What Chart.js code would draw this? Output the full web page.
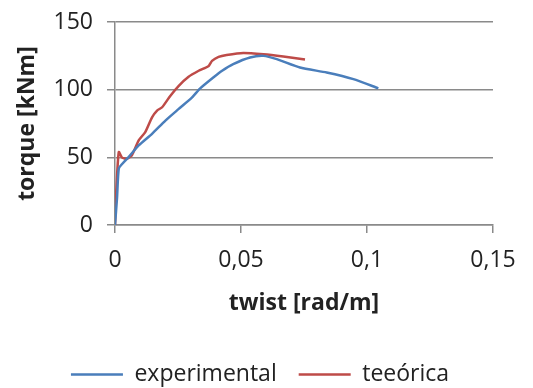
<!DOCTYPE html>
<html>
<head>
<meta charset="utf-8">
<script src="https://cdn.jsdelivr.net/npm/chart.js@4"></script>
<style>
  html, body { margin: 0; padding: 0; background: #fff; }
  #wrap { width: 533px; height: 388px; }
</style>
</head>
<body>
<div id="wrap"><canvas id="torqueChart"></canvas></div>
<script>
// curva experimental (twist, torque)
const expTwist  = [0, 0.0008, 0.0015, 0.003, 0.0054, 0.0094, 0.0147, 0.020, 0.0253, 0.0306, 0.0337, 0.039, 0.0425, 0.0469, 0.0536, 0.0589, 0.0642, 0.0734, 0.084, 0.0946, 0.1045];
const expTorque = [0, 20, 41.7, 45.5, 50.2, 58.8, 67.4, 77.2, 85.8, 94.3, 100.8, 109, 114, 118.9, 123.8, 125, 122.6, 116.4, 112.7, 107.8, 101];

// curva teórica
const teoTwist  = [0, 0.0005, 0.0015, 0.0028, 0.0048, 0.0067, 0.0094, 0.012, 0.0147, 0.0167, 0.0187, 0.022, 0.0253, 0.0292, 0.0332, 0.0372, 0.0385, 0.0411, 0.0443, 0.0509, 0.0589, 0.0668, 0.0754];
const teoTorque = [0, 25, 53.9, 49.8, 49, 51.5, 62.5, 68.6, 79.6, 84.6, 87, 95.6, 102.9, 109.6, 114, 117.6, 121.3, 124.3, 125.7, 127.2, 126.2, 124.5, 122.3];

const xTicks = [0, 0.05, 0.1, 0.15];
const xTickLabels = ['0', '0,05', '0,1', '0,15'];
const yTicks = [0, 50, 100, 150];

const pontos = (xs, ys) => xs.map((x, i) => ({ x: x, y: ys[i] }));

const azul = '#4a7ebb';
const vermelho = '#be4b48';
const cinza = '#8a8a8a';
const fonte = '"Open Sans", sans-serif';

const ctx = document.getElementById('torqueChart').getContext('2d');
new Chart(ctx, {
    type: 'scatter',
    data: {
        datasets: [{
            label: 'experimental',
            data: pontos(expTwist, expTorque),
            borderColor: azul,
            backgroundColor: azul,
            borderWidth: 2.5,
            showLine: true,
            pointRadius: 0,
            tension: 0.2
        }, {
            label: 'teeórica',
            data: pontos(teoTwist, teoTorque),
            borderColor: vermelho,
            backgroundColor: vermelho,
            borderWidth: 2.5,
            showLine: true,
            pointRadius: 0,
            tension: 0.2
        }]
    },
    options: {
        responsive: true,
        maintainAspectRatio: false,
        animation: false,
        layout: {
            padding: { left: 0, right: 13, top: 21, bottom: -8 }
        },
        plugins: {
            tooltip: { enabled: false },
            legend: {
                position: 'bottom',
                labels: {
                    boxWidth: 52,
                    boxHeight: 0,
                    padding: 22,
                    color: '#222',
                    font: { family: fonte, size: 23 }
                }
            }
        },
        scales: {
            x: {
                type: 'linear',
                min: 0,
                max: 0.15,
                afterBuildTicks: scale => {
                    scale.ticks = xTicks.map(v => ({ value: v }));
                },
                afterFit: scale => { scale.height = 116; },
                ticks: {
                    padding: 14,
                    color: '#222',
                    font: { family: fonte, size: 23 },
                    callback: (v, i) => xTickLabels[i]
                },
                grid: {
                    drawOnChartArea: false,
                    drawTicks: true,
                    tickLength: 8,
                    color: cinza,
                    lineWidth: 1.5
                },
                border: { color: cinza, width: 1.5 },
                title: {
                    display: true,
                    text: 'twist [rad/m]',
                    color: '#222',
                    font: { family: fonte, size: 23, weight: 'bold' },
                    padding: { top: 4, bottom: 24 }
                }
            },
            y: {
                min: 0,
                max: 150,
                afterBuildTicks: scale => {
                    scale.ticks = yTicks.map(v => ({ value: v }));
                },
                afterFit: scale => { scale.width = 115; },
                ticks: {
                    padding: 14,
                    color: '#222',
                    // lineHeight baixo para o rótulo 150 não empurrar a área do gráfico
                    font: { family: fonte, size: 23, lineHeight: 0.7 }
                },
                grid: {
                    tickLength: 8,
                    color: cinza,
                    lineWidth: 1.5
                },
                border: { color: cinza, width: 1.5 },
                title: {
                    display: true,
                    text: 'torque [kNm]',
                    color: '#222',
                    font: { family: fonte, size: 23, weight: 'bold' },
                    padding: { top: 14, bottom: 0 }
                }
            },
            // eixo vazio à direita, só para reservar espaço
            margem: {
                type: 'linear',
                position: 'right',
                grid: { display: false },
                ticks: { display: false },
                border: { display: false },
                afterFit: scale => { scale.width = 27; }
            }
        }
    }
});
</script>
</body>
</html>
